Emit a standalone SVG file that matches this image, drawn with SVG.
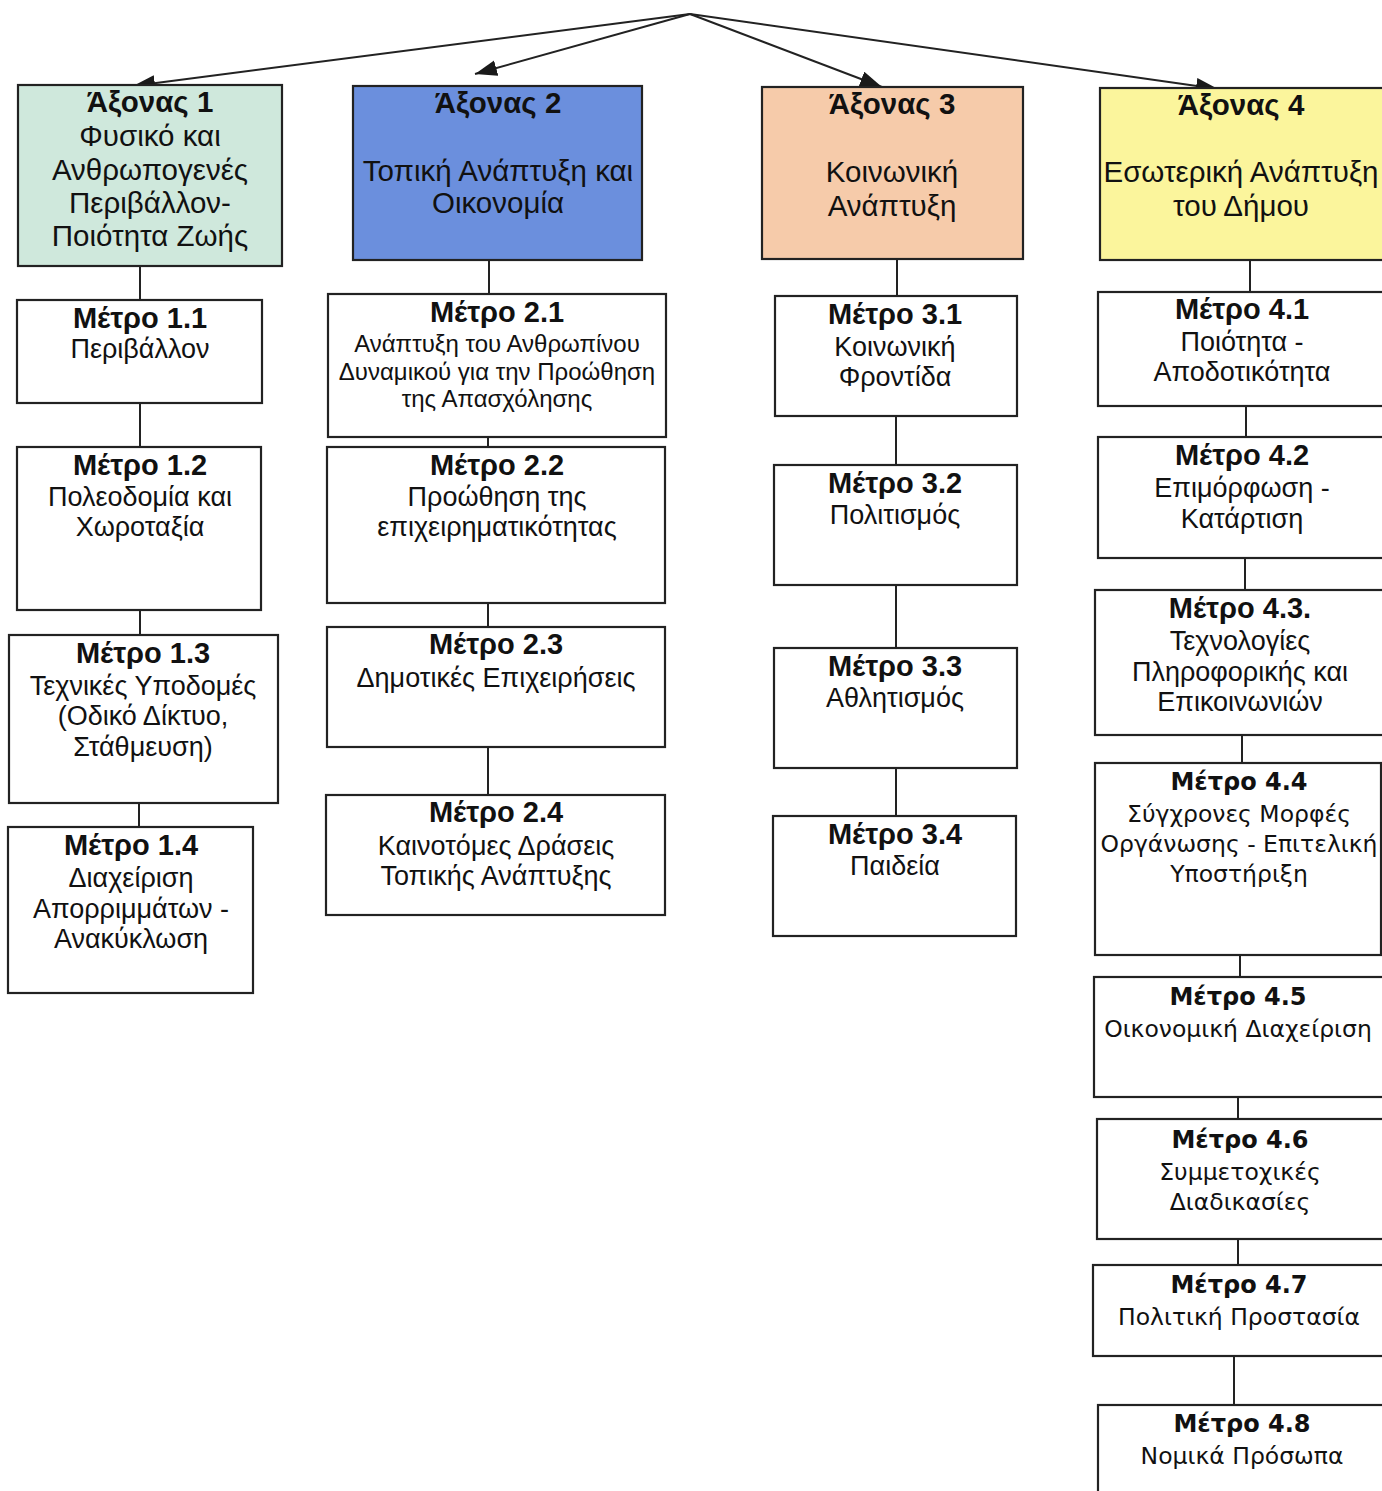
<svg xmlns="http://www.w3.org/2000/svg" width="1382" height="1491" viewBox="0 0 1382 1491">
<defs>
<marker id="arr" markerUnits="userSpaceOnUse" markerWidth="24" markerHeight="18" refX="22" refY="8" orient="auto">
<path d="M0,0 L22,8 L0,16 z" fill="#1a1a1a"/>
</marker>
<style>
.box{stroke:#222;stroke-width:2.2;fill:#fff}
.con{stroke:#222;stroke-width:2;fill:none}
text{font-family:"Liberation Sans",Arial,sans-serif;font-size:27px;fill:#111;text-anchor:middle}
.b{font-weight:bold;font-size:29px}
.ax{font-size:29.5px}
.s{font-size:24px}
.d{font-family:"DejaVu Sans",Verdana,sans-serif;font-size:23.5px}
.db{font-family:"DejaVu Sans",Verdana,sans-serif;font-size:24px;font-weight:bold}
</style>
</defs>
<rect width="1382" height="1491" fill="#fff"/>

<g id="connectors">
<line class="con" x1="690" y1="14" x2="133" y2="86" marker-end="url(#arr)"/>
<line class="con" x1="690" y1="14" x2="475" y2="74" marker-end="url(#arr)"/>
<line class="con" x1="690" y1="14" x2="882" y2="87" marker-end="url(#arr)"/>
<line class="con" x1="690" y1="14" x2="1218" y2="89" marker-end="url(#arr)"/>
<line class="con" x1="140" y1="266" x2="140" y2="300"/>
<line class="con" x1="140" y1="403" x2="140" y2="447"/>
<line class="con" x1="140" y1="610" x2="140" y2="635"/>
<line class="con" x1="139" y1="803" x2="139" y2="827"/>
<line class="con" x1="489" y1="260" x2="489" y2="294"/>
<line class="con" x1="488" y1="437" x2="488" y2="447"/>
<line class="con" x1="488" y1="603" x2="488" y2="627"/>
<line class="con" x1="488" y1="747" x2="488" y2="795"/>
<line class="con" x1="897" y1="259" x2="897" y2="296"/>
<line class="con" x1="896" y1="416" x2="896" y2="465"/>
<line class="con" x1="896" y1="585" x2="896" y2="648"/>
<line class="con" x1="896" y1="768" x2="896" y2="816"/>
<line class="con" x1="1250" y1="260" x2="1250" y2="292"/>
<line class="con" x1="1246" y1="406" x2="1246" y2="437"/>
<line class="con" x1="1245" y1="558" x2="1245" y2="590"/>
<line class="con" x1="1242" y1="735" x2="1242" y2="763"/>
<line class="con" x1="1240" y1="955" x2="1240" y2="977"/>
<line class="con" x1="1238" y1="1097" x2="1238" y2="1119"/>
<line class="con" x1="1238" y1="1239" x2="1238" y2="1265"/>
<line class="con" x1="1234" y1="1356" x2="1234" y2="1405"/>
</g>

<g id="axon1">
<rect class="box" x="18" y="85" width="264" height="181" style="fill:#cfe8dc"/>
<text class="b ax" x="150" y="112">Άξονας 1</text>
<text class="ax" x="150" y="146">Φυσικό και</text>
<text class="ax" x="150" y="180">Ανθρωπογενές</text>
<text class="ax" x="150" y="213">Περιβάλλον-</text>
<text class="ax" x="150" y="246">Ποιότητα Ζωής</text>
</g>
<g id="axon2">
<rect class="box" x="353" y="86" width="289" height="174" style="fill:#6b8fdd"/>
<text class="b ax" x="498" y="113">Άξονας 2</text>
<text class="ax" x="498" y="181">Τοπική Ανάπτυξη και</text>
<text class="ax" x="498" y="213">Οικονομία</text>
</g>
<g id="axon3">
<rect class="box" x="762" y="87" width="261" height="172" style="fill:#f6cbaa"/>
<text class="b ax" x="892" y="114">Άξονας 3</text>
<text class="ax" x="892" y="182">Κοινωνική</text>
<text class="ax" x="892" y="216">Ανάπτυξη</text>
</g>
<g id="axon4">
<rect class="box" x="1100" y="88" width="290" height="172" style="fill:#fbf59c"/>
<text class="b ax" x="1241" y="115">Άξονας 4</text>
<text class="ax" x="1241" y="182">Εσωτερική Ανάπτυξη</text>
<text class="ax" x="1241" y="216">του Δήμου</text>
</g>

<g id="m11">
<rect class="box" x="17" y="300" width="245" height="103"/>
<text class="b" x="140" y="328">Μέτρο 1.1</text>
<text x="140" y="358">Περιβάλλον</text>
</g>
<g id="m12">
<rect class="box" x="17" y="447" width="244" height="163"/>
<text class="b" x="140" y="475">Μέτρο 1.2</text>
<text x="140" y="506">Πολεοδομία και</text>
<text x="140" y="536">Χωροταξία</text>
</g>
<g id="m13">
<rect class="box" x="9" y="635" width="269" height="168"/>
<text class="b" x="143" y="663">Μέτρο 1.3</text>
<text x="143" y="695">Τεχνικές Υποδομές</text>
<text x="143" y="725">(Οδικό Δίκτυο,</text>
<text x="143" y="756">Στάθμευση)</text>
</g>
<g id="m14">
<rect class="box" x="8" y="827" width="245" height="166"/>
<text class="b" x="131" y="855">Μέτρο 1.4</text>
<text x="131" y="887">Διαχείριση</text>
<text x="131" y="918">Απορριμμάτων -</text>
<text x="131" y="948">Ανακύκλωση</text>
</g>

<g id="m21">
<rect class="box" x="328" y="294" width="338" height="143"/>
<text class="b" x="497" y="322">Μέτρο 2.1</text>
<text class="s" x="497" y="352">Ανάπτυξη του Ανθρωπίνου</text>
<text class="s" x="497" y="380">Δυναμικού για την Προώθηση</text>
<text class="s" x="497" y="407">της Απασχόλησης</text>
</g>
<g id="m22">
<rect class="box" x="327" y="447" width="338" height="156"/>
<text class="b" x="497" y="475">Μέτρο 2.2</text>
<text x="497" y="506">Προώθηση της</text>
<text x="497" y="536">επιχειρηματικότητας</text>
</g>
<g id="m23">
<rect class="box" x="327" y="627" width="338" height="120"/>
<text class="b" x="496" y="654">Μέτρο 2.3</text>
<text x="496" y="687">Δημοτικές Επιχειρήσεις</text>
</g>
<g id="m24">
<rect class="box" x="326" y="795" width="339" height="120"/>
<text class="b" x="496" y="822">Μέτρο 2.4</text>
<text x="496" y="855">Καινοτόμες Δράσεις</text>
<text x="496" y="885">Τοπικής Ανάπτυξης</text>
</g>

<g id="m31">
<rect class="box" x="775" y="296" width="242" height="120"/>
<text class="b" x="895" y="324">Μέτρο 3.1</text>
<text x="895" y="356">Κοινωνική</text>
<text x="895" y="386">Φροντίδα</text>
</g>
<g id="m32">
<rect class="box" x="774" y="465" width="243" height="120"/>
<text class="b" x="895" y="493">Μέτρο 3.2</text>
<text x="895" y="524">Πολιτισμός</text>
</g>
<g id="m33">
<rect class="box" x="774" y="648" width="243" height="120"/>
<text class="b" x="895" y="676">Μέτρο 3.3</text>
<text x="895" y="707">Αθλητισμός</text>
</g>
<g id="m34">
<rect class="box" x="773" y="816" width="243" height="120"/>
<text class="b" x="895" y="844">Μέτρο 3.4</text>
<text x="895" y="875">Παιδεία</text>
</g>

<g id="m41">
<rect class="box" x="1098" y="292" width="290" height="114"/>
<text class="b" x="1242" y="319">Μέτρο 4.1</text>
<text x="1242" y="351">Ποιότητα -</text>
<text x="1242" y="381">Αποδοτικότητα</text>
</g>
<g id="m42">
<rect class="box" x="1098" y="437" width="290" height="121"/>
<text class="b" x="1242" y="465">Μέτρο 4.2</text>
<text x="1242" y="497">Επιμόρφωση -</text>
<text x="1242" y="528">Κατάρτιση</text>
</g>
<g id="m43">
<rect class="box" x="1095" y="590" width="293" height="145"/>
<text class="b" x="1240" y="618">Μέτρο 4.3.</text>
<text x="1240" y="650">Τεχνολογίες</text>
<text x="1240" y="681">Πληροφορικής και</text>
<text x="1240" y="711">Επικοινωνιών</text>
</g>
<g id="m44">
<rect class="box" x="1095" y="763" width="286" height="192"/>
<text class="db" x="1239" y="790">Μέτρο 4.4</text>
<text class="d" x="1239" y="822">Σύγχρονες Μορφές</text>
<text class="d" x="1239" y="852">Οργάνωσης - Επιτελική</text>
<text class="d" x="1239" y="882">Υποστήριξη</text>
</g>
<g id="m45">
<rect class="box" x="1094" y="977" width="290" height="120"/>
<text class="db" x="1238" y="1005">Μέτρο 4.5</text>
<text class="d" x="1238" y="1037">Οικονομική Διαχείριση</text>
</g>
<g id="m46">
<rect class="box" x="1097" y="1119" width="290" height="120"/>
<text class="db" x="1240" y="1148">Μέτρο 4.6</text>
<text class="d" x="1240" y="1180">Συμμετοχικές</text>
<text class="d" x="1240" y="1210">Διαδικασίες</text>
</g>
<g id="m47">
<rect class="box" x="1093" y="1265" width="294" height="91"/>
<text class="db" x="1239" y="1293">Μέτρο 4.7</text>
<text class="d" x="1239" y="1325">Πολιτική Προστασία</text>
</g>
<g id="m48">
<rect class="box" x="1098" y="1405" width="290" height="95"/>
<text class="db" x="1242" y="1432">Μέτρο 4.8</text>
<text class="d" x="1242" y="1464">Νομικά Πρόσωπα</text>
</g>
</svg>
